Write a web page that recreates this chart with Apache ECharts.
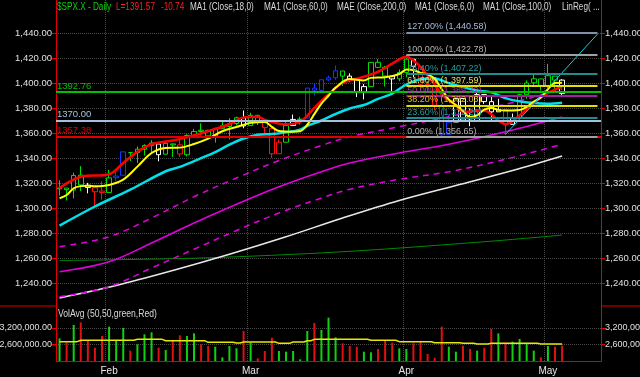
<!DOCTYPE html>
<html>
<head>
<meta charset="utf-8">
<script src="https://cdn.jsdelivr.net/npm/echarts@6/dist/echarts.min.js"></script>
<style>
html, body { margin: 0; padding: 0; background: #000; }
#chart { width: 640px; height: 377px; }
</style>
</head>
<body>
<div id="chart"></div>
<script>
// trading days shown, plus 5 empty slots on the right
const dates = [
  '1/23','1/24','1/25','1/26','1/27','1/30','1/31',
  '2/1','2/2','2/3','2/6','2/7','2/8','2/9','2/10','2/13','2/14','2/15','2/16','2/17','2/21','2/22','2/23','2/24','2/27','2/28','2/29',
  '3/1','3/2','3/5','3/6','3/7','3/8','3/9','3/12','3/13','3/14','3/15','3/16','3/19','3/20','3/21','3/22','3/23','3/26','3/27','3/28','3/29','3/30',
  '4/2','4/3','4/4','4/5','4/9','4/10','4/11','4/12','4/13','4/16','4/17','4/18','4/19','4/20','4/23','4/24','4/25','4/26','4/27','4/30',
  '5/1','5/2','5/3','5/4','5/7','5/8','5/9','5/10'
];
const monthLabels = { '2/1': 'Feb', '3/1': 'Mar', '4/2': 'Apr', '5/1': 'May' };

// [open, close, low, high]
const ohlc = [
  [1315.29,1316.00,1309.89,1322.28],[1315.96,1314.65,1306.06,1315.96],[1314.40,1326.06,1307.65,1328.30],
  [1326.28,1318.43,1313.60,1333.47],[1318.25,1316.33,1311.72,1320.06],[1316.16,1313.01,1300.49,1316.16],
  [1313.53,1312.41,1306.69,1321.41],[1312.45,1324.09,1312.45,1330.52],[1324.24,1325.54,1321.57,1329.19],
  [1326.21,1344.90,1326.21,1345.34],[1344.32,1344.33,1337.52,1344.36],[1344.33,1347.05,1335.92,1349.24],
  [1347.04,1349.96,1341.95,1351.00],[1349.97,1351.95,1344.63,1354.32],[1351.21,1342.64,1337.35,1351.21],
  [1343.06,1351.77,1343.06,1353.35],[1351.30,1350.50,1340.83,1351.30],[1350.52,1343.23,1340.80,1355.87],
  [1342.61,1358.04,1341.22,1359.02],[1358.06,1361.23,1357.24,1363.40],[1361.22,1362.21,1358.11,1367.76],
  [1362.11,1357.66,1355.53,1362.70],[1357.53,1363.46,1352.28,1364.24],[1363.46,1365.74,1363.46,1368.92],
  [1365.20,1367.59,1354.92,1371.94],[1367.56,1372.18,1365.97,1373.09],[1372.20,1365.68,1363.81,1378.04],
  [1365.90,1374.09,1365.90,1376.17],[1374.09,1369.63,1366.42,1374.53],[1369.59,1364.33,1359.13,1369.59],
  [1363.63,1343.36,1340.03,1363.63],[1343.39,1352.63,1343.39,1354.85],[1352.65,1365.91,1352.65,1368.72],
  [1365.97,1370.87,1365.97,1374.76],[1370.78,1371.09,1366.69,1373.04],[1371.92,1395.95,1371.92,1396.13],
  [1395.95,1394.28,1389.97,1399.42],[1394.17,1402.60,1392.78,1402.63],[1402.55,1404.17,1401.47,1405.88],
  [1404.17,1409.75,1402.43,1414.00],[1409.59,1405.52,1397.68,1409.59],[1405.52,1402.89,1400.64,1407.75],
  [1402.89,1392.78,1388.73,1402.89],[1392.78,1397.11,1386.87,1399.18],[1397.11,1416.51,1397.11,1416.58],
  [1416.55,1412.52,1411.95,1419.15],[1412.52,1405.54,1397.20,1413.65],[1405.39,1403.28,1391.56,1405.39],
  [1403.31,1408.47,1401.42,1410.89],[1408.47,1419.04,1404.46,1422.38],[1418.98,1413.38,1404.62,1419.00],
  [1413.09,1398.96,1394.09,1413.09],[1398.79,1398.08,1392.92,1401.60],[1397.45,1382.20,1378.24,1397.45],
  [1382.18,1358.59,1357.38,1383.01],[1358.98,1368.71,1358.98,1374.71],[1368.77,1387.57,1368.77,1388.13],
  [1387.61,1370.26,1369.85,1387.61],[1370.27,1369.57,1365.38,1379.66],[1369.57,1390.78,1369.57,1392.76],
  [1390.78,1385.14,1383.29,1390.78],[1385.08,1376.92,1370.30,1390.46],[1376.96,1378.53,1376.96,1387.40],
  [1378.53,1366.94,1358.79,1378.53],[1366.97,1371.97,1366.82,1375.57],[1372.11,1390.69,1372.11,1391.37],
  [1390.64,1399.98,1387.28,1402.09],[1400.19,1403.36,1397.31,1406.64],[1403.26,1397.91,1394.00,1403.26],
  [1397.86,1405.82,1395.73,1415.32],[1405.50,1402.31,1393.92,1405.50],[1402.32,1391.57,1388.71,1403.07]
];
// g green, r red, b blue, w white
const candleColors = 'ggggwrrgbbggggwggrggggggggwggrrrgwgbbbbbgwwwgggwggwrrrbbwwwwwwwrwggggggw';

const volume = [
  2824000,2667000,3309000,3406000,2727000,2485000,2909000,3248000,2764000,3200000,
  2376000,2606000,2970000,3042000,2485000,2400000,2727000,2933000,2909000,3006000,
  2606000,2545000,2521000,2133000,2545000,2461000,3091000,2667000,2097000,2364000,
  2848000,2364000,2339000,2364000,2061000,3091000,3382000,3127000,3576000,2861000,
  2642000,2545000,2521000,2339000,2315000,2436000,2727000,2667000,2461000,2436000,
  2642000,2679000,2255000,2121000,3248000,2521000,2339000,2557000,2436000,2376000,
  2485000,3164000,3006000,2642000,2703000,2800000,2642000,2376000,2133000,2545000,
  2521000,2557000
];
const volumeColors = 'grgrrrrgggrgggrgrrggrrggggrgrrrgggggrgggrrrggrrrggrrrrrggrrgrrgrggggrgrr';
const volAvg = [
  2703000,2703000,2703000,2752000,2752000,2752000,2752000,2752000,2752000,2752000,
  2752000,2788000,2788000,2788000,2788000,2739000,2739000,2739000,2739000,2739000,
  2739000,2679000,2679000,2679000,2679000,2655000,2691000,2691000,2691000,2691000,
  2691000,2642000,2642000,2691000,2691000,2739000,2788000,2788000,2788000,2788000,
  2788000,2788000,2788000,2788000,2752000,2752000,2752000,2752000,2703000,2703000,
  2703000,2703000,2703000,2667000,2667000,2667000,2667000,2642000,2642000,2618000,
  2618000,2642000,2642000,2642000,2642000,2642000,2642000,2642000,2618000,2618000,
  2618000,2618626
];

// indicator lines as [dayIndex, value]
const redLine = [[0,1316],[3,1325],[7,1327],[9,1336],[11,1345],[13,1351],[16,1354],[18,1356.5],[21,1361.5],[24,1367],
  [26,1372.5],[28,1373],[29,1370.5],[31,1367.5],[32,1367],[34,1369],[36,1380],[38,1391],[40,1400],[43,1405],[45,1409],
  [47,1415.5],[49,1421],[50,1418],[51,1413],[52,1406],[53,1399],[54,1391],[56,1382],[57,1377],[60,1378],[61,1375],
  [62,1370],[63,1367],[65,1374],[67,1384],[69,1392],[71,1397]];
const ma6 = [[0,1307.8],[1,1310.4],[2,1315.8],[3,1317.5],[4,1317.8],[5,1317.4],[7,1318.4],[9,1322.7],[11,1333.1],[13,1344.0],
  [15,1348.0],[17,1348.3],[19,1351.2],[21,1355.5],[23,1361.4],[25,1364.8],[27,1368.1],[29,1368.9],[30,1364.9],[31,1361.6],
  [33,1361.1],[34,1361.4],[35,1366.6],[36,1375.1],[37,1383.5],[38,1389.8],[39,1396.3],[41,1403.2],[43,1402.0],[44,1404.1],
  [46,1404.6],[48,1407.2],[49,1410.9],[50,1410.4],[51,1408.1],[52,1406.9],[53,1403.4],[54,1395.0],[55,1386.7],[56,1382.4],
  [57,1377.6],[58,1372.8],[59,1374.2],[60,1378.7],[61,1380.0],[62,1378.5],[63,1378.0],[65,1378.4],[66,1380.8],[67,1385.2],
  [68,1388.5],[69,1395.0],[70,1400.0],[71,1400.16]];
const ma18 = [[0,1285.9],[5,1301.2],[10,1314.7],[15,1329.4],[17,1332.9],[20,1339.9],[22,1344.7],[24,1350.7],[26,1355.6],
  [28,1358.6],[30,1359.2],[32,1360.5],[34,1362.7],[35,1365.7],[37,1370.0],[39,1375.2],[41,1379.6],[43,1382.4],[45,1387.3],
  [47,1391.5],[49,1398.8],[51,1403.0],[53,1403.7],[55,1399.9],[57,1396.8],[59,1394.1],[61,1392.5],[63,1387.9],[65,1385.3],
  [67,1384.0],[69,1383.5],[71,1384.26]];
const ma60 = [[0,1249],[7,1257],[13,1272],[19,1288],[25,1303],[31,1317],[37,1329],[41,1336],[48,1344],[55,1351],[63,1361],[71,1372.79]];
const envUpper = [[0,1269],[7,1277],[13,1292],[19,1309],[25,1324],[31,1338],[37,1350],[41,1357],[48,1365],[55,1373],[63,1383],[71,1395]];
const envLower = [[0,1229],[7,1237],[13,1252],[19,1267],[25,1282],[31,1296],[37,1308],[41,1315],[48,1323],[55,1329],[63,1339],[71,1351]];
const ma100 = [[0,1228],[8,1238],[16,1250],[24,1263],[32,1277],[40,1292],[48,1306],[56,1318],[64,1330],[71,1341.63]];
const ma200 = [[0,1258],[20,1260],[40,1265],[60,1273],[71,1278.32]];
const linReg = [[63,1358.8],[76,1439.1]];

const levels = [1392.76, 1370.00, 1357.38];
const levelColors = ['#00c000', '#a8c0e0', '#e00000'];

const fibPct = ['127.00%','100.00%','76.40%','61.80%','50.00%','38.20%','23.60%','0.00%'];
const fibVals = [1440.58, 1422.78, 1407.22, 1397.59, 1389.72, 1382.03, 1372.26, 1356.65];
const fibLineColors = ['#7f90a8','#a0a0a0','#208c8c','#e0e000','#a020a0','#e0e000','#208c8c','#a0a0a0'];
const fibTextColors = ['#a8bcd8','#b0b0b0','#20a0a0','#e8e060','#b030b0','#e8c000','#20a0a0','#b0b0b0'];

const priceTicks = [1240,1260,1280,1300,1320,1340,1360,1380,1400,1420,1440];
const volTicks = [2600000, 3200000];

const FONT = "'Liberation Sans', Arial, sans-serif";
const colorMap = { g: '#00e000', r: '#ff1010', b: '#1438ff', w: '#ffffff' };
const fmt = v => v.toLocaleString('en-US', { minimumFractionDigits: 2, maximumFractionDigits: 2 });
const monthIdx = dates.map((d, i) => monthLabels[d] ? i : -1).filter(i => i >= 0);
const isMonth = i => monthIdx.indexOf(i) >= 0;

const candleData = ohlc.map((d, i) => {
  const c = colorMap[candleColors[i]];
  return { value: d, itemStyle: { color: '#000', color0: c, borderColor: c, borderColor0: c, borderWidth: 1 } };
});
const volData = volume.map((v, i) => ({ value: v, itemStyle: { color: volumeColors[i] === 'g' ? '#10d010' : '#e01010' } }));

function endTag(value, bg, fg) {
  return {
    symbol: 'none', silent: true, animation: false,
    lineStyle: { opacity: 0 },
    label: {
      position: 'end', distance: 2, formatter: fmt(value),
      backgroundColor: bg, color: fg, padding: [1, 3, 0, 3],
      fontFamily: FONT, fontSize: 9
    },
    data: [{ yAxis: value }]
  };
}

function lineSeries(name, data, color, width, type, tag) {
  const s = {
    name, type: 'line', xAxisIndex: 0, yAxisIndex: 0, data,
    showSymbol: false, smooth: 0.35, silent: true,
    lineStyle: { color, width, type: type || 'solid' }, z: 3
  };
  if (tag) s.markLine = tag;
  return s;
}

const levelMarks = levels.map((v, i) => ({
  yAxis: v,
  lineStyle: { color: levelColors[i], width: 2, type: 'solid' },
  label: { show: true, position: 'insideStartTop', distance: [1, 1], formatter: v.toFixed(2), color: levelColors[i], fontFamily: FONT, fontSize: 9.5 }
}));
const fibMarks = fibVals.map((v, i) => [
  {
    coord: [49, v],
    lineStyle: { color: fibLineColors[i], width: 2, type: 'solid' },
    label: { show: true, position: 'insideStartTop', distance: [1, 1], formatter: fibPct[i] + ' (' + fmt(v) + ')', color: fibTextColors[i], fontFamily: FONT, fontSize: 9 }
  },
  { coord: [76, v] }
]);

const headerItems = [
  ['$SPX.X - Daily', 57, '#10d010'], ['L=1391.57', 116, '#ff2020'], ['-10.74', 161, '#ff2020'],
  ['MA1 (Close,18,0)', 190, '#d8d8d8'], ['MA1 (Close,60,0)', 264, '#d8d8d8'], ['MAE (Close,200,0)', 337, '#d8d8d8'],
  ['MA1 (Close,6,0)', 415, '#d8d8d8'], ['MA1 (Close,100,0)', 483, '#d8d8d8'], ['LinReg( ...', 562, '#d8d8d8']
];
const headerText = headerItems.map(h => ({
  type: 'text', x: h[1], y: 2, scaleX: 0.78, z: 10,
  style: { text: h[0], fill: h[2], font: '10.5px ' + FONT }
}));

const chart = echarts.init(document.getElementById('chart'));
const option = {
  backgroundColor: '#000',
  animation: false,
  grid: [
    { left: 56, right: 39, top: 0, height: 306, outerBoundsMode: 'none' },
    { left: 56, right: 39, top: 306, height: 55, outerBoundsMode: 'none' }
  ],
  xAxis: [
    {
      type: 'category', gridIndex: 0, data: dates, boundaryGap: true,
      axisLine: { show: false }, axisTick: { show: false }, axisLabel: { show: false },
      splitLine: { show: true, interval: i => isMonth(i), lineStyle: { color: '#4a4a4a', type: 'dotted' } }
    },
    {
      type: 'category', gridIndex: 1, data: dates, boundaryGap: true,
      axisLine: { lineStyle: { color: '#e00000', width: 1 } },
      axisTick: { alignWithLabel: true, interval: i => isMonth(i), length: 4, lineStyle: { color: '#e00000' } },
      axisLabel: { interval: i => isMonth(i), formatter: v => monthLabels[v] || '', color: '#e8e8e8', fontFamily: FONT, fontSize: 10, margin: 5 },
      splitLine: { show: true, interval: i => isMonth(i), lineStyle: { color: '#4a4a4a', type: 'dotted' } }
    }
  ],
  yAxis: [
    {
      type: 'value', gridIndex: 0, position: 'left', min: 1221.6, max: 1466.4,
      axisLine: { show: true, lineStyle: { color: '#e00000', width: 1 } },
      axisTick: { show: true, customValues: priceTicks, length: 4, lineStyle: { color: '#e00000' } },
      axisLabel: { customValues: priceTicks, formatter: fmt, color: '#e0e0e0', fontFamily: FONT, fontSize: 9.5, margin: 4 },
      splitLine: { show: true, lineStyle: { color: '#4a4a4a', type: 'dotted' } }
    },
    {
      type: 'value', gridIndex: 0, position: 'right', min: 1221.6, max: 1466.4,
      axisLine: { show: true, lineStyle: { color: '#e00000', width: 1 } },
      axisTick: { show: true, customValues: priceTicks, length: 4, lineStyle: { color: '#e00000' } },
      axisLabel: { customValues: priceTicks, formatter: fmt, color: '#e0e0e0', fontFamily: FONT, fontSize: 9.5, margin: 4 },
      splitLine: { show: false }
    },
    {
      type: 'value', gridIndex: 1, position: 'left', min: 2000000, max: 4000000,
      axisLine: { show: true, lineStyle: { color: '#e00000', width: 1 } },
      axisTick: { show: true, customValues: volTicks, length: 4, lineStyle: { color: '#e00000' } },
      axisLabel: { customValues: volTicks, formatter: fmt, color: '#e0e0e0', fontFamily: FONT, fontSize: 9, margin: 4 },
      splitLine: { show: true, lineStyle: { color: '#4a4a4a', type: 'dotted' } }
    },
    {
      type: 'value', gridIndex: 1, position: 'right', min: 2000000, max: 4000000,
      axisLine: { show: true, lineStyle: { color: '#e00000', width: 1 } },
      axisTick: { show: true, customValues: volTicks, length: 4, lineStyle: { color: '#e00000' } },
      axisLabel: { customValues: volTicks, formatter: fmt, color: '#e0e0e0', fontFamily: FONT, fontSize: 9, margin: 4 },
      splitLine: { show: false }
    }
  ],
  graphic: [
    { type: 'line', shape: { x1: 0, y1: 306, x2: 56, y2: 306 }, style: { stroke: '#e00000', lineWidth: 1 }, z: 10 },
    { type: 'line', shape: { x1: 601, y1: 306, x2: 640, y2: 306 }, style: { stroke: '#e00000', lineWidth: 1 }, z: 10 },
    { type: 'text', x: 58, y: 309, scaleX: 0.82, z: 10, style: { text: 'VolAvg (50,50,green,Red)', fill: '#d8d8d8', font: '10.5px ' + FONT } }
  ].concat(headerText),
  series: [
    {
      name: 'ma200', type: 'line', xAxisIndex: 0, yAxisIndex: 0, data: ma200, showSymbol: false, smooth: 0.3, silent: true,
      lineStyle: { color: '#008a00', width: 1 }, z: 2, markLine: endTag(1278.32, '#008a00', '#002000')
    },
    {
      name: 'price', type: 'candlestick', xAxisIndex: 0, yAxisIndex: 0, data: candleData, barWidth: 5, z: 2,
      markLine: {
        symbol: 'none', silent: true, animation: false,
        data: levelMarks.concat(fibMarks)
      }
    },
    lineSeries('ma100', ma100, '#e8e8e8', 1.5, 'solid', endTag(1341.63, '#f0f0f0', '#202020')),
    lineSeries('envUpper', envUpper, '#e000e0', 1.5, [6, 5]),
    lineSeries('ma60', ma60, '#e000e0', 1.5, 'solid', endTag(1372.79, '#ff00ff', '#200020')),
    lineSeries('envLower', envLower, '#e000e0', 1.5, [6, 5]),
    lineSeries('ma18', ma18, '#00e0e8', 2.5, 'solid', endTag(1384.26, '#00ffff', '#002020')),
    lineSeries('red', redLine, '#ff0000', 2.5, 'solid', endTag(1391.57, '#ff0000', '#300000')),
    lineSeries('ma6', ma6, '#ffff00', 2, 'solid', endTag(1400.16, '#ffff00', '#202000')),
    {
      name: 'linreg', type: 'line', xAxisIndex: 0, yAxisIndex: 0, data: linReg, showSymbol: false, silent: true,
      lineStyle: { color: '#00d8e0', width: 1 }, z: 3
    },
    {
      name: 'volume', type: 'bar', xAxisIndex: 1, yAxisIndex: 2, data: volData, barWidth: 2
    },
    {
      name: 'volAvg', type: 'line', xAxisIndex: 1, yAxisIndex: 2, data: volAvg, step: 'middle', showSymbol: false, silent: true,
      lineStyle: { color: '#e8e800', width: 1.5 }, z: 3,
      markLine: {
        symbol: 'none', silent: true, animation: false, lineStyle: { opacity: 0 },
        label: {
          position: 'start', distance: 0, formatter: fmt(2618626),
          backgroundColor: '#ff1010', color: '#ffc0c0', padding: [1, 2, 0, 2], fontFamily: FONT, fontSize: 9
        },
        data: [{ yAxis: 2618626 }]
      }
    }
  ]
};
chart.setOption(option);
</script>
</body>
</html>
